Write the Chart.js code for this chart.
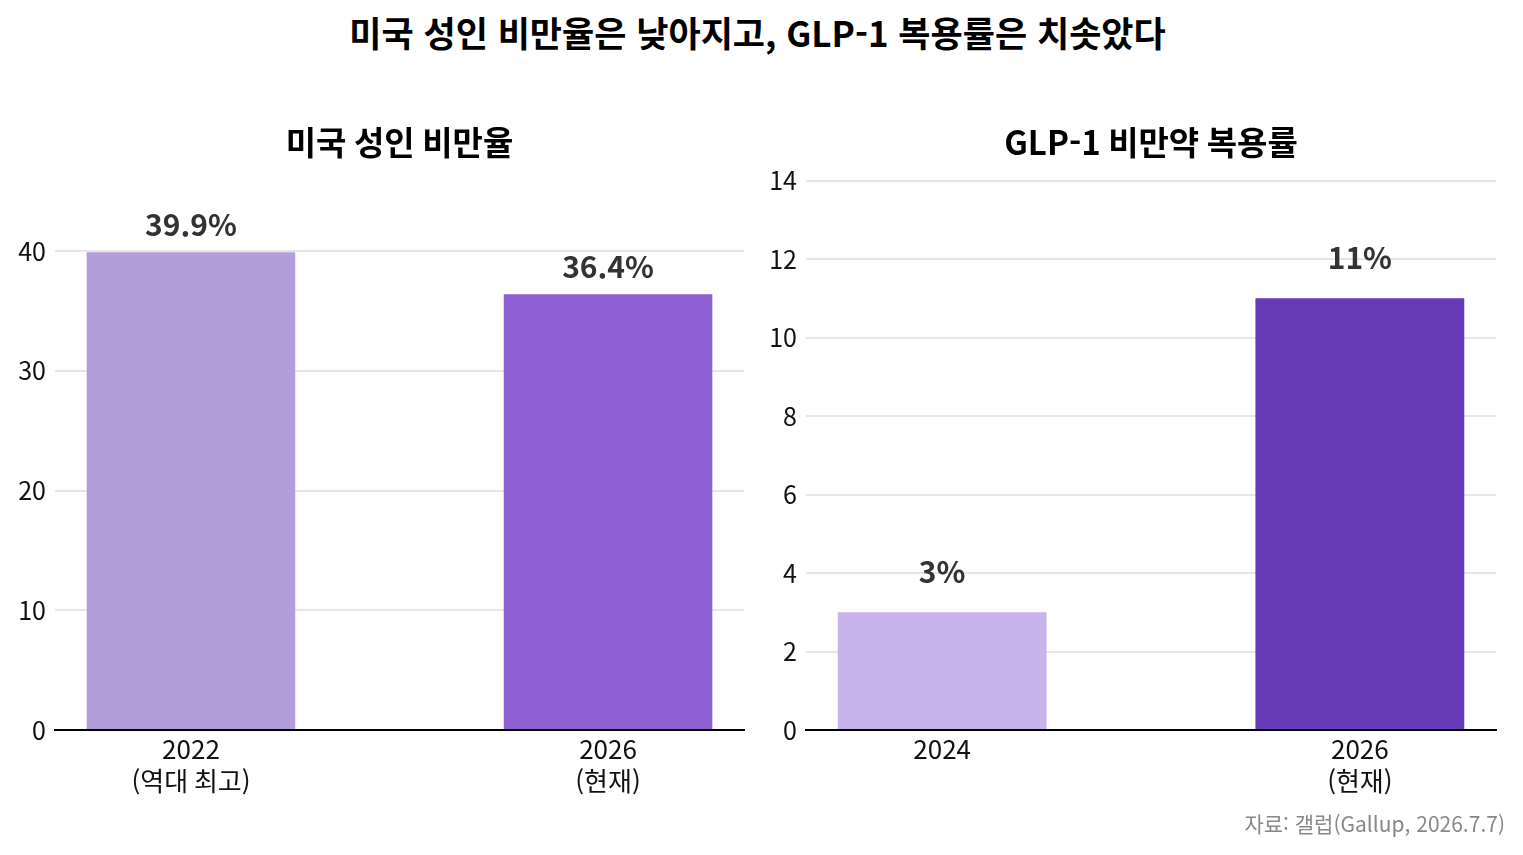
<!DOCTYPE html>
<html lang="ko">
<head>
<meta charset="utf-8">
<title>미국 성인 비만율과 GLP-1 복용률</title>
<script src="https://cdn.jsdelivr.net/npm/chart.js@4.4.1/dist/chart.umd.min.js"></script>
<style>
  html, body { margin: 0; padding: 0; background: #fff; }
  body { width: 1523px; height: 855px; position: relative; overflow: hidden;
         font-family: "Noto Sans CJK KR", "Noto Sans", sans-serif; }
  #title { position: absolute; top: 6px; left: -4px; width: 1523px; text-align: center;
           font-size: 35px; font-weight: bold; color: #000; }
  .box { position: absolute; top: 100px; height: 710px; }
  #leftBox { left: 0; width: 760px; }
  #rightBox { left: 761px; width: 762px; }
  #source { position: absolute; right: 18px; top: 808px; font-size: 21px; color: #888; }
</style>
</head>
<body>
<div id="title">미국 성인 비만율은 낮아지고, GLP-1 복용률은 치솟았다</div>
<div class="box" id="leftBox"><canvas id="obesityChart"></canvas></div>
<div class="box" id="rightBox"><canvas id="glpChart"></canvas></div>
<div id="source">자료: 갤럽(Gallup, 2026.7.7)</div>

<script>
// 미국 성인 비만율
const obesityLabels = [['2022', '(역대 최고)'], ['2026', '(현재)']];
const obesityValues = [39.9, 36.4];
const obesityTicks = [0, 10, 20, 30, 40];
const obesityColors = ['#b39ddb', '#8f5fd4'];

// GLP-1 비만약 복용률
const glpLabels = [['2024'], ['2026', '(현재)']];
const glpValues = [3, 11];
const glpTicks = [0, 2, 4, 6, 8, 10, 12, 14];
const glpColors = ['#c8b3ec', '#673ab7'];

const fontFamily = '"Noto Sans CJK KR", "Noto Sans", sans-serif';

// bar value labels
const valueLabels = {
    id: 'valueLabels',
    afterDatasetsDraw(chart, args, opts) {
        const ctx = chart.ctx;
        const meta = chart.getDatasetMeta(0);
        ctx.save();
        ctx.font = 'bold 30px ' + fontFamily;
        ctx.fillStyle = '#333';
        ctx.textAlign = 'center';
        ctx.textBaseline = 'bottom';
        meta.data.forEach((bar, i) => {
            const v = chart.data.datasets[0].data[i].y;
            ctx.fillText(v + '%', bar.x, bar.y - opts.offset);
        });
        ctx.restore();
    }
};

function makeChart(canvasId, title, labels, values, ticks, colors, yMax, yWidth, padRight, labelOffset) {
    const el = document.getElementById(canvasId);
    return new Chart(el, {
        type: 'bar',
        data: {
            datasets: [{
                data: values.map((v, i) => ({ x: i, y: v })),
                backgroundColor: colors,
                categoryPercentage: 0.5,
                barPercentage: 1.0
            }]
        },
        options: {
            responsive: true,
            maintainAspectRatio: false,
            animation: false,
            layout: { padding: { left: 0, right: padRight, top: 0, bottom: 0 } },
            plugins: {
                legend: { display: false },
                tooltip: { enabled: false },
                title: {
                    display: true,
                    text: title,
                    fullSize: false,
                    color: '#000',
                    font: { family: fontFamily, size: 33, weight: 'bold' },
                    padding: { top: 23, bottom: 18 }
                },
                valueLabels: { offset: labelOffset }
            },
            scales: {
                x: {
                    type: 'linear',
                    min: -0.326,
                    max: 1.326,
                    offset: false,
                    afterBuildTicks: s => { s.ticks = labels.map((l, i) => ({ value: i })); },
                    afterFit: s => { s.height = 80; },
                    ticks: {
                        callback: (v, i) => labels[i],
                        color: '#111',
                        font: { family: fontFamily, size: 26 },
                        padding: -4,
                        maxRotation: 0
                    },
                    grid: { display: false },
                    border: { display: true, color: '#000', width: 2 }
                },
                y: {
                    min: 0,
                    max: yMax,
                    afterBuildTicks: s => { s.ticks = ticks.map(t => ({ value: t })); },
                    afterFit: s => { s.width = yWidth; },
                    ticks: {
                        color: '#111',
                        font: { family: fontFamily, size: 25 },
                        padding: 9
                    },
                    grid: { color: '#e6e6e6', lineWidth: 2, drawTicks: false },
                    border: { display: false }
                }
            }
        },
        plugins: [valueLabels]
    });
}

makeChart('obesityChart', '미국 성인 비만율', obesityLabels, obesityValues, obesityTicks,
          obesityColors, 45.885, 55, 16, 13);
makeChart('glpChart', 'GLP-1 비만약 복용률', glpLabels, glpValues, glpTicks,
          glpColors, 14, 45, 27, 26);
</script>
</body>
</html>
